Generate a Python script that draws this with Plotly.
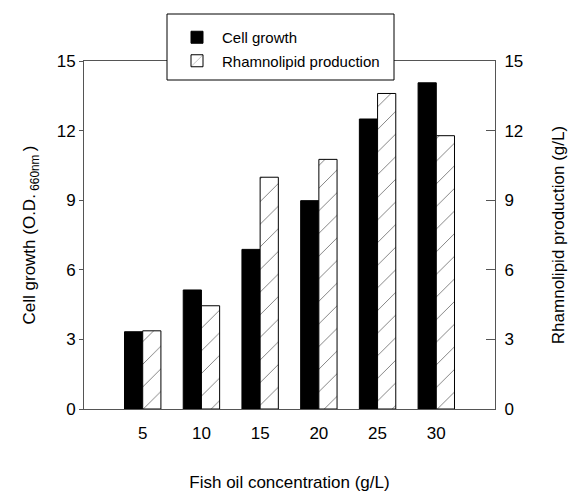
import plotly.graph_objects as go

concentrations = ["5", "10", "15", "20", "25", "30"]
cell_growth = [3.33, 5.13, 6.88, 8.98, 12.5, 14.06]
rhamnolipid = [3.37, 4.45, 9.99, 10.76, 13.6, 11.78]
y_ticks = [0, 3, 6, 9, 12, 15]

FONT = "Liberation Sans, Arial, sans-serif"
bw = 0.31

# plot area in page px: x 84..495, y 61..409
def px_x(p):
    return (p - 84) / 411.0

def px_y(p):
    return (409 - p) / 348.0

fig = go.Figure()
fig.add_trace(go.Bar(
    x=concentrations, y=cell_growth, name="Cell growth",
    marker=dict(color="black", line=dict(color="black", width=1)),
    width=bw, offset=-bw, yaxis="y", legendgroup="a",
))
fig.add_trace(go.Bar(
    x=concentrations, y=rhamnolipid, name="Rhamnolipid production",
    marker=dict(color="white", line=dict(color="black", width=1),
                pattern=dict(shape="/", size=16, solidity=0.06, fgcolor="black", bgcolor="white")),
    width=bw, offset=0, yaxis="y2", legendgroup="b",
))

fig.add_shape(
    type="rect", xref="paper", yref="paper",
    x0=px_x(167), x1=px_x(394), y0=px_y(80), y1=px_y(14),
    fillcolor="white", line=dict(color="black", width=1), layer="above",
)

fig.update_layout(
    width=568, height=493,
    margin=dict(l=84, r=73, t=61, b=84),
    plot_bgcolor="white", paper_bgcolor="white",
    barmode="overlay",
    font=dict(family=FONT, size=17, color="black"),
    xaxis=dict(
        type="category", range=[-1, 6], automargin=False,
        showline=True, linecolor="#555", linewidth=1, mirror=True,
        ticks="", showgrid=False,
        tickfont=dict(size=17), ticklabelstandoff=9,
        title=dict(text="Fish oil concentration (g/L)", font=dict(size=17), standoff=33),
    ),
    yaxis=dict(
        range=[0, 15], tickvals=y_ticks, showgrid=False, zeroline=False, automargin=False,
        showline=True, linecolor="#555", linewidth=1,
        ticks="outside", ticklen=4, tickcolor="#555",
        tickfont=dict(size=17),
        title=dict(text="Cell growth (O.D.<sub> 660nm </sub>)", font=dict(size=17), standoff=16),
    ),
    yaxis2=dict(
        range=[0, 15], tickvals=y_ticks, showgrid=False, zeroline=False, automargin=False,
        overlaying="y", side="right",
        showline=True, linecolor="#555", linewidth=1,
        ticks="inside", ticklen=9, tickcolor="#555",
        tickfont=dict(size=17), ticklabelstandoff=5,
        title=dict(text="Rhamnolipid production (g/L)", font=dict(size=17), standoff=30),
    ),
    legend=dict(
        x=px_x(172), y=px_y(21), xanchor="left", yanchor="top",
        bgcolor="rgba(0,0,0,0)", borderwidth=0,
        font=dict(size=15), traceorder="grouped", tracegroupgap=1,
        itemwidth=40,
    ),
    showlegend=True,
)

fig.write_html(
    "out.html",
    config={"displayModeBar": False},
    post_script="document.body.style.margin='0px'; document.body.style.overflow='hidden';",
)
